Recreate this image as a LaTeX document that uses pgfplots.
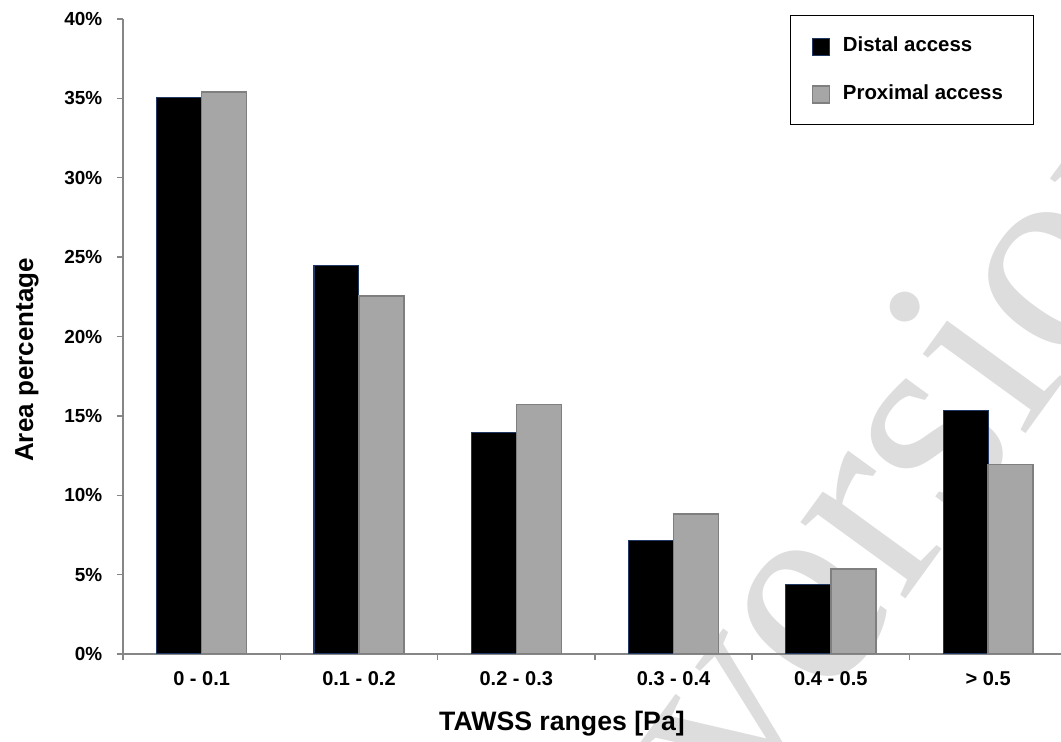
\documentclass[border=0pt]{standalone}
\usepackage{pgfplots}
\pgfplotsset{compat=1.18}
\usepackage{fontspec}
\setmainfont{Liberation Sans}
\newfontfamily\wmfont{Liberation Serif}
\definecolor{axgray}{HTML}{868686}
\definecolor{navy}{HTML}{1F3864}
\definecolor{bargray}{HTML}{A6A6A6}
\definecolor{bargrayedge}{HTML}{7F7F7F}
\definecolor{wm}{HTML}{DDDDDD}
\pgfplotstableread{
x distal proximal
0 35.03 35.40
1 24.50 22.56
2 13.97 15.71
3 7.14 8.82
4 4.37 5.36
5 15.31 11.95
}\datatable
\begin{document}
\begin{tikzpicture}
\useasboundingbox (0,0) rectangle (795.75pt,556.5pt);
\node[wm, rotate=54, anchor=base west, inner sep=0pt, font=\wmfont\fontsize{212}{212}\selectfont] at (559pt,-58pt) {version};
\begin{axis}[
  at={(92.25pt,66pt)}, anchor=south west,
  scale only axis,
  width=703.5pt, height=476.25pt,
  xmin=-0.5, xmax=5.463,
  ymin=0, ymax=40,
  axis x line=bottom, axis y line=left,
  axis line style={axgray, line width=1.1pt, -},
  tick align=outside,
  major tick length=4.5pt, minor tick length=4.5pt,
  tick style={axgray, line width=1.1pt},
  major x tick style={draw=none},
  xtick={0,1,2,3,4,5},
  minor xtick={-0.5,0.5,1.5,2.5,3.5,4.5},
  xticklabels={0 - 0.1, 0.1 - 0.2, 0.2 - 0.3, 0.3 - 0.4, 0.4 - 0.5, > 0.5},
  ytick={0,5,10,15,20,25,30,35,40},
  yticklabels={0\%,5\%,10\%,15\%,20\%,25\%,30\%,35\%,40\%},
  xticklabel style={font=\fontsize{15}{18}\selectfont\bfseries, yshift=-5pt},
  yticklabel style={font=\fontsize{14.2}{17}\selectfont\bfseries, xshift=-7.5pt},
  xlabel={TAWSS ranges [Pa]},
  ylabel={Area percentage},
  xlabel style={font=\fontsize{20}{24}\selectfont\bfseries, at={(axis description cs:0.468,-0.1197)}, anchor=base},
  ylabel style={font=\fontsize{19.5}{23}\selectfont\bfseries, at={(axis description cs:-0.0959,0.463)}, anchor=base, rotate=0},
  legend cell align=left,
  legend image code/.code={\draw[#1] (0pt,-7.5pt) rectangle (12.75pt,5.3pt);},
  legend style={
    at={(axis description cs:0.711,1.006)}, anchor=north west,
    draw=black, line width=0.9pt,
    inner xsep=16pt, inner ysep=15.8pt,
    font=\fontsize{15.3}{18}\selectfont\bfseries,
    row sep=21.6pt, column sep=9.5pt,
    nodes={inner sep=0pt},
  },
]
\addplot[ybar, bar width=0.286, bar shift=-0.143, fill=black, draw=navy, line width=0.8pt] table[x=x, y=distal] {\datatable};
\addlegendentry{\makebox[127pt][l]{\vphantom{Dp}Distal access}}
\addplot[ybar, bar width=0.286, bar shift=0.143, fill=bargray, draw=bargrayedge, line width=1.1pt] table[x=x, y=proximal] {\datatable};
\addlegendentry{\makebox[127pt][l]{\vphantom{Dp}Proximal access}}
\end{axis}
\end{tikzpicture}
\end{document}
